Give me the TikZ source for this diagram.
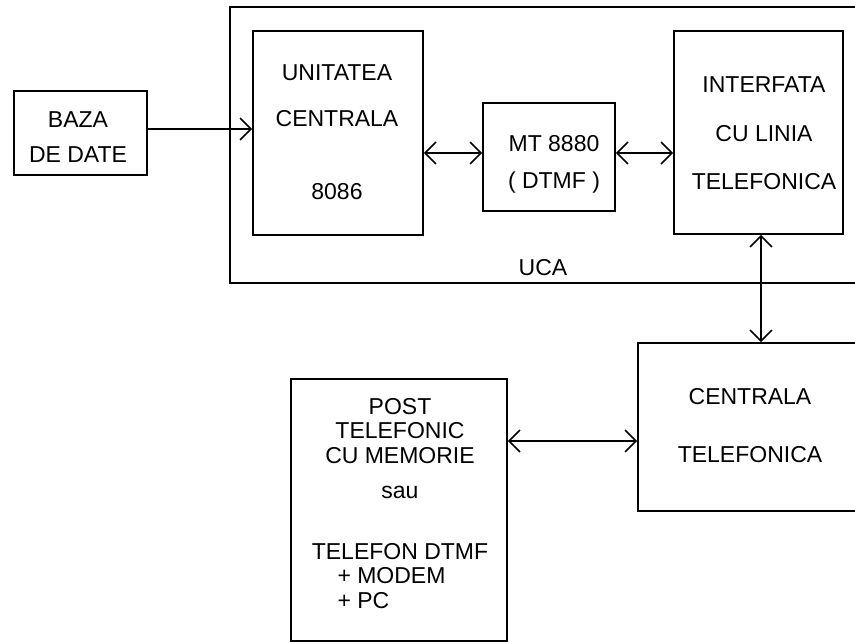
\documentclass[tikz,border=0pt]{standalone}
\usepackage{fontspec}
\setmainfont{Liberation Sans}
\usetikzlibrary{arrows.meta, positioning}

\begin{document}
\begin{tikzpicture}[x=1pt, y=-1pt,
    blok/.style={draw, line width=1.6pt, rectangle, inner sep=0pt},
    txt/.style={align=center, inner sep=0pt, font=\fontsize{23pt}{24.5pt}\selectfont},
    arr/.style={line width=1.6pt, -{Straight Barb[length=11pt,width=22pt]}},
    barr/.style={line width=1.6pt, {Straight Barb[length=11pt,width=22pt]}-{Straight Barb[length=11pt,width=22pt]}}]
    \useasboundingbox (0,0) rectangle (855,643);

    % UCA frame, open to the right
    \node[blok, minimum width=640, minimum height=276] (uca) at (550,145) {};

    \node[blok, minimum width=133, minimum height=84] (baza) at (80.5,133) {};
    \node[blok, minimum width=170, minimum height=204] (uc) at (338,133) {};
    \node[blok, minimum width=132, minimum height=108] (mt) at (549,157) {};
    \node[blok, minimum width=169, minimum height=203] (if) at (758.5,132.5) {};
    \node[blok, minimum width=232, minimum height=168] (cen) at (754,427) {};
    \node[blok, minimum width=216, minimum height=262] (post) at (399,510) {};

    \node[txt] (tbaza) at (78,137.5) {BAZA\\[10.5pt]DE DATE};
    \node[txt] (tuc) at (337,132.5) {UNITATEA\\[21.5pt]CENTRALA\\[48.5pt]8086};
    \node[txt] (tmt) at (554,164) {MT 8880\\[12.5pt]( DTMF )};
    \node[txt] (tif) at (764,133.5) {INTERFATA\\[24pt]CU LINIA\\[24pt]TELEFONICA};
    \node[txt] (tuca) at (543,268) {UCA};
    \node[txt] (tcen) at (750,426) {CENTRALA\\[33.5pt]TELEFONICA};
    \node[txt] (tpost) at (400,503.5) {POST\\TELEFONIC\\CU MEMORIE\\[10.5pt]sau\\[36.5pt]TELEFON DTMF\\\makebox[125pt][l]{+ MODEM}\\\makebox[125pt][l]{+ PC}};

    \draw[arr] ([yshift=4pt]baza.east) -- ([yshift=4pt]baza.east -| uc.west);
    \draw[barr] ([yshift=4pt]mt.west -| uc.east) -- ([yshift=4pt]mt.west);
    \draw[barr] ([yshift=4pt]mt.east) -- ([yshift=4pt]mt.east -| if.west);
    \draw[barr] ([xshift=2.5pt]if.south) -- ([xshift=2.5pt]if.south |- cen.north);
    \draw[barr] ([yshift=-14pt]cen.west -| post.east) -- ([yshift=-14pt]cen.west);
\end{tikzpicture}
\end{document}
